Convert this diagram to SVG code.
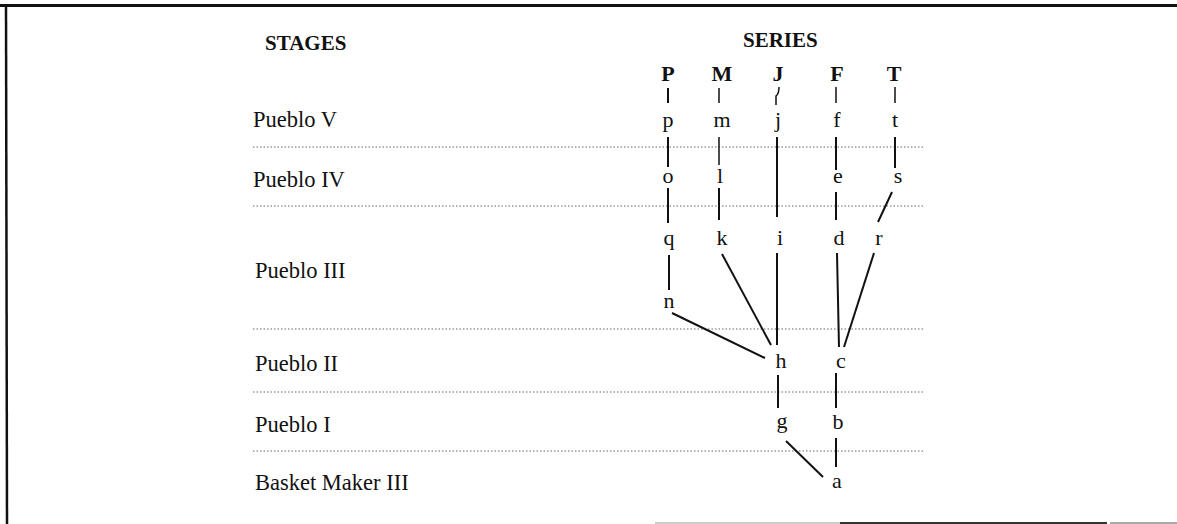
<svg xmlns="http://www.w3.org/2000/svg" width="1177" height="524" viewBox="0 0 1177 524">
<style>
.hd{font-family:"Liberation Serif","Times New Roman",serif;font-weight:bold;font-size:21px;fill:#111}
.st{font-family:"Liberation Serif","Times New Roman",serif;font-size:22.5px;fill:#111}
.nd{font-family:"Liberation Serif","Times New Roman",serif;font-size:22px;fill:#111;text-anchor:middle}
.ndb{font-family:"Liberation Serif","Times New Roman",serif;font-weight:bold;font-size:22px;fill:#111;text-anchor:middle}
.dot{stroke:#666;stroke-width:1;stroke-dasharray:1.5 2;fill:none}
.cn{stroke:#111;stroke-width:2;fill:none;stroke-linecap:butt}
.cnt{stroke:#111;stroke-width:1.5;fill:none}
</style>
<rect width="1177" height="524" fill="#fff"/>
<g id="frame">
<line x1="0" y1="5.5" x2="1177" y2="5.5" stroke="#111" stroke-width="3"/>
<line x1="6" y1="4" x2="7" y2="524" stroke="#111" stroke-width="2.5"/>
<line x1="655" y1="523" x2="840" y2="523" stroke="#ccc" stroke-width="2"/>
<line x1="840" y1="523" x2="1107" y2="523" stroke="#333" stroke-width="2"/>
<line x1="1110" y1="523" x2="1177" y2="523" stroke="#aaa" stroke-width="2"/>
</g>
<g id="headers">
<text class="hd" x="265" y="50">STAGES</text>
<text class="hd" x="743" y="47">SERIES</text>
</g>
<g id="stages">
<text class="st" x="253" y="127">Pueblo V</text>
<text class="st" x="253" y="187">Pueblo IV</text>
<text class="st" x="255" y="278">Pueblo III</text>
<text class="st" x="255" y="371">Pueblo II</text>
<text class="st" x="255" y="432">Pueblo I</text>
<text class="st" x="255" y="490">Basket Maker III</text>
</g>
<g id="dividers">
<line class="dot" x1="253" y1="147" x2="925" y2="147"/>
<line class="dot" x1="253" y1="206" x2="925" y2="206"/>
<line class="dot" x1="253" y1="329" x2="925" y2="329"/>
<line class="dot" x1="253" y1="392" x2="925" y2="392"/>
<line class="dot" x1="253" y1="451" x2="925" y2="451"/>
</g>
<g id="connectors">
<line class="cn" x1="668" y1="88" x2="668" y2="103"/>
<line class="cn" x1="668" y1="137" x2="668" y2="167"/>
<line class="cn" x1="668" y1="188" x2="668" y2="223"/>
<line class="cn" x1="669" y1="255" x2="669" y2="290"/>
<line class="cn" x1="672" y1="313" x2="765" y2="358"/>
<line class="cnt" x1="719" y1="88" x2="719" y2="103"/>
<line class="cnt" x1="719" y1="137" x2="719" y2="165"/>
<line class="cn" x1="719" y1="188" x2="719" y2="220"/>
<line class="cn" x1="722" y1="254" x2="771" y2="345"/>
<path class="cnt" d="M779 87 Q779 94 776 96 L776 105"/>
<line class="cn" x1="777" y1="137" x2="777" y2="217"/>
<line class="cn" x1="777" y1="253" x2="777" y2="345"/>
<line class="cn" x1="778" y1="375" x2="778" y2="408"/>
<line class="cn" x1="786" y1="441" x2="823" y2="477"/>
<line class="cnt" x1="836" y1="87" x2="836" y2="103"/>
<line class="cn" x1="836" y1="137" x2="836" y2="170"/>
<line class="cn" x1="836" y1="192" x2="836" y2="220"/>
<line class="cn" x1="837" y1="253" x2="839" y2="347"/>
<line class="cn" x1="836" y1="373" x2="836" y2="408"/>
<line class="cn" x1="836" y1="438" x2="836" y2="467"/>
<line class="cnt" x1="895" y1="87" x2="895" y2="103"/>
<line class="cn" x1="895" y1="137" x2="895" y2="168"/>
<line class="cn" x1="892" y1="192" x2="878" y2="222"/>
<line class="cn" x1="874" y1="253" x2="844" y2="347"/>
</g>
<g id="node-P"><text class="ndb" x="668" y="81">P</text></g>
<g id="node-M"><text class="ndb" x="722" y="81">M</text></g>
<g id="node-J"><text class="ndb" x="778" y="81">J</text></g>
<g id="node-F"><text class="ndb" x="837" y="81">F</text></g>
<g id="node-T"><text class="ndb" x="894" y="81">T</text></g>
<g id="node-p"><text class="nd" x="668" y="127">p</text></g>
<g id="node-m"><text class="nd" x="722" y="127">m</text></g>
<g id="node-j"><text class="nd" x="778" y="127">j</text></g>
<g id="node-f"><text class="nd" x="837" y="127">f</text></g>
<g id="node-t"><text class="nd" x="895" y="127">t</text></g>
<g id="node-o"><text class="nd" x="668" y="183">o</text></g>
<g id="node-l"><text class="nd" x="720" y="183">l</text></g>
<g id="node-e"><text class="nd" x="838" y="183">e</text></g>
<g id="node-s"><text class="nd" x="898" y="183">s</text></g>
<g id="node-q"><text class="nd" x="669" y="245">q</text></g>
<g id="node-k"><text class="nd" x="722" y="245">k</text></g>
<g id="node-i"><text class="nd" x="780" y="245">i</text></g>
<g id="node-d"><text class="nd" x="839" y="245">d</text></g>
<g id="node-r"><text class="nd" x="879" y="245">r</text></g>
<g id="node-n"><text class="nd" x="669" y="308">n</text></g>
<g id="node-h"><text class="nd" x="781" y="368">h</text></g>
<g id="node-c"><text class="nd" x="841" y="368">c</text></g>
<g id="node-g"><text class="nd" x="782" y="428">g</text></g>
<g id="node-b"><text class="nd" x="838" y="429">b</text></g>
<g id="node-a"><text class="nd" x="837" y="488">a</text></g>
</svg>
